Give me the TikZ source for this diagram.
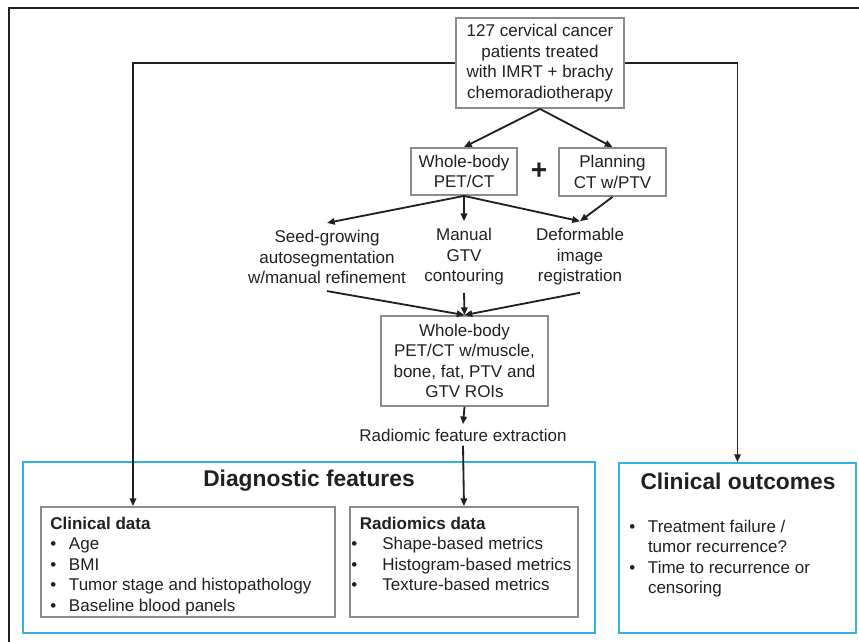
\documentclass[tikz,border=0pt]{standalone}
\usepackage{fontspec}
\setmainfont{Liberation Sans}
\usepackage{xcolor}
\usepackage{tikz}
\usetikzlibrary{arrows.meta,positioning,calc}

\definecolor{inkdark}{HTML}{231F20}
\definecolor{boxgray}{HTML}{8C8C8C}
\definecolor{panelblue}{HTML}{33B1E6}

\newcommand{\blt}[1][1.1em]{\makebox[#1][l]{\textbullet}}

\begin{document}
\begin{tikzpicture}[
  x=0.025cm, y=-0.025cm,
  >={Triangle[length=5.5pt,width=4.6pt]},
  font=\fontsize{12.1}{14.6}\selectfont,
  text=inkdark,
  graybox/.style={draw=boxgray, line width=1.3pt, fill=white, align=center, inner sep=0pt},
  bluebox/.style={draw=panelblue, line width=1.3pt, inner sep=0pt},
  steptext/.style={align=center, inner xsep=2pt, inner ysep=5pt},
  flow/.style={->, draw=inkdark, line width=1.3pt}
]

\useasboundingbox (0,0) rectangle (859,642);

% Outer frame (right and bottom sides cut off)
\draw[inkdark, line width=1.2pt] (859,8) -- (9,8) -- (9,642);

% ==================== TOP: cohort and imaging ====================
\node[graybox, minimum width=4.2cm, minimum height=2.25cm] (pat) at (540,63)
  {127 cervical cancer\\ patients treated\\ with IMRT + brachy\\ chemoradiotherapy};

\node[graybox, minimum width=2.65cm, minimum height=1.175cm] (pet) at (464,171.5)
  {Whole-body\\ PET/CT};
\node[graybox, minimum width=2.675cm, minimum height=1.2cm] (plan) at (612.5,172)
  {Planning\\ CT w/PTV};
\node[font=\fontsize{20}{20}\selectfont\bfseries] (plus) at (539,171) {+};

% Processing steps
\node[steptext] (seed) at (327,257) {Seed-growing\\ autosegmentation\\ w/manual refinement};
\node[steptext] (manual) at (464,257) {Manual\\ GTV\\ contouring};
\node[steptext] (deform) at (580,257) {Deformable\\ image\\ registration};

\node[graybox, minimum width=4.175cm, minimum height=2.25cm] (roi) at (464.5,361)
  {Whole-body\\ PET/CT w/muscle,\\ bone, fat, PTV and\\ GTV ROIs};

\node[align=center, inner xsep=2pt, inner ysep=3pt] (extract) at (463,435)
  {Radiomic feature extraction};

% ==================== BOTTOM: feature and outcome panels ====================
\node[bluebox, minimum width=14.3cm, minimum height=4.275cm] (diag) at (309,547.5) {};
\node[bluebox, minimum width=5.925cm, minimum height=4.25cm] (outc) at (737.5,548) {};

\node[font=\fontsize{16.2}{19}\selectfont\bfseries] (diaghead) at (309,481) {Diagnostic features};
\node[font=\fontsize{16.2}{19}\selectfont\bfseries] (outchead) at (738,481) {Clinical outcomes};

\node[graybox, minimum width=7.35cm, minimum height=2.75cm] (clin) at (188,562) {};
\node[graybox, minimum width=5.7cm, minimum height=2.75cm] (rad) at (464,562) {};

% Clinical data list
\node[align=left, inner sep=0pt, anchor=north west] (clinlist) at (50,516.5) {%
  \textbf{Clinical data}\\
  \blt Age\\
  \blt BMI\\
  \blt Tumor stage and histopathology\\
  \blt Baseline blood panels};

% Radiomics data list
\node[align=left, inner sep=0pt, anchor=north west] (radlist) at (351,516.5) {%
  \hspace*{0.5em}\textbf{Radiomics data}\\
  \blt[1.55em] Shape-based metrics\\
  \blt[1.55em] Histogram-based metrics\\
  \blt[1.55em] Texture-based metrics};

% Outcome list
\node[align=left, inner sep=0pt, anchor=north west] (outclist) at (629,519.5) {%
  \blt Treatment failure /\\
  \hspace*{1.1em}tumor recurrence?\\
  \blt Time to recurrence or\\
  \hspace*{1.1em}censoring};

% ==================== CONNECTORS ====================
\draw[flow] (pat.south) -- (pet.north);
\draw[flow] (pat.south) -- (plan.north);

\draw[flow] (pet.south) -- (seed.north);
\draw[flow] (pet.south) -- (manual.north);
\draw[flow] (pet.south) -- (deform.north);
\draw[flow] (plan.south) -- (deform.north);

\draw[flow] (seed.south) -- (roi.north);
\draw[flow] (manual.south) -- (roi.north);
\draw[flow] (deform.south) -- (roi.north);

\draw[flow] (roi.south) -- (extract.north);
\draw[flow] (extract.south) -- (rad.north);

% Side routes to clinical data and outcomes
\draw[flow] (pat.west) -| ([xshift=-1.375cm]clin.north);
\draw[flow] (pat.east) -| (outc.north);

\end{tikzpicture}
\end{document}
